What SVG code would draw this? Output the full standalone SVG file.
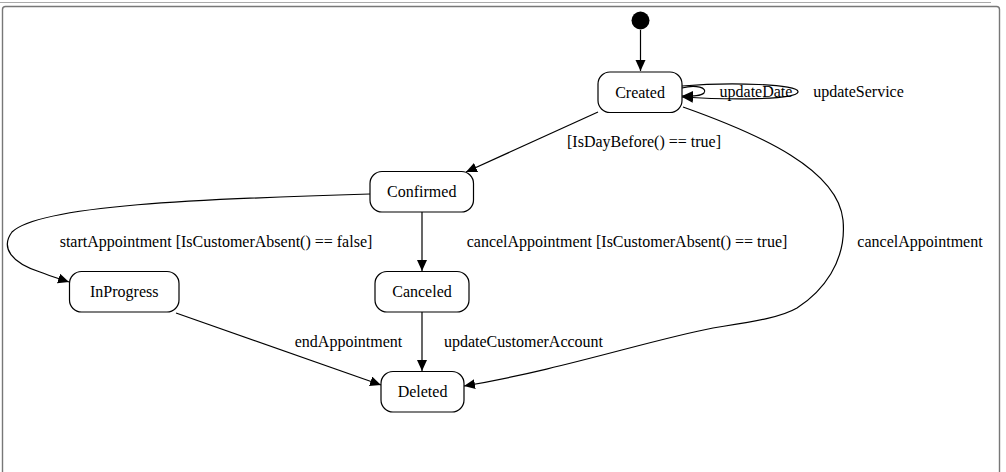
<svg xmlns="http://www.w3.org/2000/svg" width="1006" height="472" viewBox="0 0 1006 472">
  <style>
    text { font-family: "Liberation Serif", "Times New Roman", serif; font-size: 16px; fill: #000; }
    .node rect { fill: #fff; stroke: #000; stroke-width: 1.2; }
    .edge { fill: none; stroke: #000; stroke-width: 1.2; }
    .lbl { text-anchor: middle; }
  </style>
  <defs>
    <marker id="arrow" markerUnits="userSpaceOnUse" markerWidth="12" markerHeight="11" refX="11" refY="5" orient="auto">
      <path d="M0,0 L11,5 L0,10 z" fill="#000"/>
    </marker>
  </defs>
  <rect x="0" y="0" width="1006" height="472" fill="#fff"/>
  <g id="frame">
    <line x1="0" y1="2.5" x2="991" y2="2.5" stroke="#aaa" stroke-width="1"/>
    <rect x="2.5" y="6.5" width="997" height="480" rx="3" fill="none" stroke="#777" stroke-width="1.4"/>
  </g>
  <g id="connectors">
    <path class="edge" d="M640.5,30 L640.5,71" marker-end="url(#arrow)"/>
    <path class="edge" d="M598,112 L466,172" marker-end="url(#arrow)"/>
    <path class="edge" d="M683,107 C762,135 838,170 843,220 C847,262 822,292 797,308 C780,318 750,322 713,328 C650,340 560,370 464,386" marker-end="url(#arrow)"/>
    <path class="edge" d="M370,194 C200,199 40,205 12,232 C0,248 12,263 40,272 C50,276 60,279 69,282" marker-end="url(#arrow)"/>
    <path class="edge" d="M422,212 L422,271" marker-end="url(#arrow)"/>
    <path class="edge" d="M176,313 L381,385" marker-end="url(#arrow)"/>
    <path class="edge" d="M422,312 L422,371" marker-end="url(#arrow)"/>
    <path class="edge" d="M682,88 C696,84 708,88 704,93 C701,96 694,96 682,96" marker-end="url(#arrow)"/>
    <path class="edge" d="M682,86 C730,82 800,84 798,92 C796,100 730,100 682,97" marker-end="url(#arrow)"/>
  </g>
  <g id="edge-labels">
    <text class="lbl" x="756" y="97">updateDate</text>
    <text class="lbl" x="858.5" y="97">updateService</text>
    <text class="lbl" x="644" y="147">[IsDayBefore() == true]</text>
    <text class="lbl" x="216" y="247">startAppointment [IsCustomerAbsent() == false]</text>
    <text class="lbl" x="627" y="247">cancelAppointment [IsCustomerAbsent() == true]</text>
    <text class="lbl" x="920" y="247">cancelAppointment</text>
    <text class="lbl" x="348.5" y="347">endAppointment</text>
    <text class="lbl" x="523.5" y="347">updateCustomerAccount</text>
  </g>
  <g id="initial">
    <circle cx="640.5" cy="20.5" r="9" fill="#000"/>
  </g>
  <g id="Created" class="node">
    <rect x="598" y="72" width="84" height="40.5" rx="12"/>
    <text class="lbl" x="640" y="97.5">Created</text>
  </g>
  <g id="Confirmed" class="node">
    <rect x="370" y="171.5" width="103.5" height="40.5" rx="12"/>
    <text class="lbl" x="421.75" y="197">Confirmed</text>
  </g>
  <g id="InProgress" class="node">
    <rect x="69.5" y="271.5" width="109.5" height="40.5" rx="12"/>
    <text class="lbl" x="124.25" y="297">InProgress</text>
  </g>
  <g id="Canceled" class="node">
    <rect x="375" y="271.5" width="94" height="40.5" rx="12"/>
    <text class="lbl" x="422" y="297">Canceled</text>
  </g>
  <g id="Deleted" class="node">
    <rect x="381" y="371.5" width="83" height="40.5" rx="12"/>
    <text class="lbl" x="422.5" y="397">Deleted</text>
  </g>
</svg>
